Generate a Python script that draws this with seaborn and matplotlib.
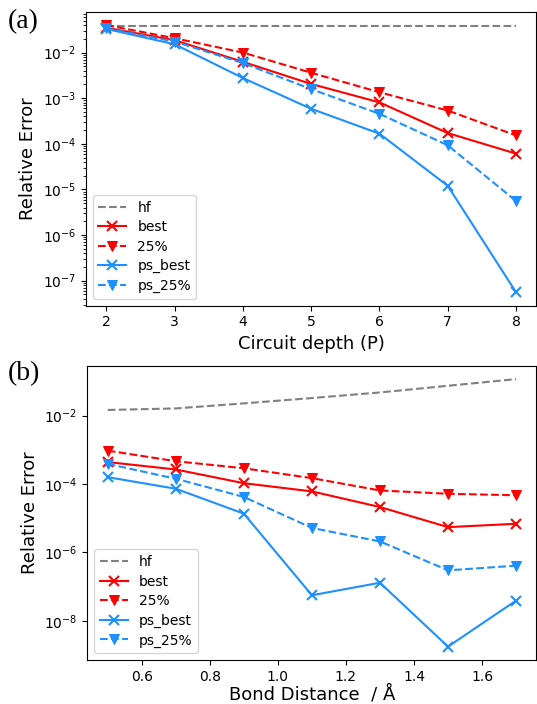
import matplotlib
matplotlib.use("Agg")
import matplotlib.pyplot as plt
from matplotlib import ticker
import seaborn as sns

# Panel (a): relative error vs circuit depth
depth = [2, 3, 4, 5, 6, 7, 8]
hf_a = [0.0382, 0.0382, 0.0382, 0.0382, 0.0382, 0.0382, 0.0382]
best_a = [0.035, 0.0186, 0.00626, 0.00205, 0.00081, 0.000172, 6.1e-5]
q25_a = [0.040, 0.0206, 0.0100, 0.00361, 0.00135, 0.000537, 0.000153]
ps_best_a = [0.033, 0.0152, 0.00277, 0.000585, 0.000167, 1.2e-5, 5.6e-8]
ps_q25_a = [0.034, 0.0174, 0.0059, 0.00158, 0.000455, 9.3e-5, 5.6e-6]

# Panel (b): relative error vs bond distance
bond = [0.5, 0.7, 0.9, 1.1, 1.3, 1.5, 1.7]
hf_b = [0.0147, 0.0163, 0.0229, 0.0328, 0.0478, 0.075, 0.1175]
best_b = [4.4e-4, 2.67e-4, 1.06e-4, 6.1e-5, 2.13e-5, 5.5e-6, 6.9e-6]
q25_b = [9.5e-4, 4.66e-4, 2.9e-4, 1.49e-4, 6.5e-5, 5.2e-5, 4.7e-5]
ps_best_b = [1.59e-4, 7.3e-5, 1.36e-5, 5.6e-8, 1.3e-7, 1.76e-9, 3.9e-8]
ps_q25_b = [3.9e-4, 1.43e-4, 4.2e-5, 5.2e-6, 2.1e-6, 3.0e-7, 4.1e-7]

labels = ["hf", "best", "25%", "ps_best", "ps_25%"]
colors = ["gray", "red", "red", "dodgerblue", "dodgerblue"]
markers = [None, "x", "v", "x", "v"]
styles = ["--", "-", "--", "-", "--"]

plt.rcParams["font.family"] = ["DejaVu Sans"]

fig = plt.figure(figsize=(5.37, 7.04), dpi=100)
ax1 = fig.add_axes([0.160, 0.566, 0.839, 0.4173])
ax2 = fig.add_axes([0.1626, 0.0625, 0.8364, 0.418])


def draw(ax, x, series):
    for y, lab, c, m, ls in zip(series, labels, colors, markers, styles):
        kw = dict(x=x, y=y, ax=ax, color=c, linestyle=ls, label=lab, linewidth=1.5)
        if m is not None:
            kw.update(marker=m, markersize=7, markeredgecolor=c, markerfacecolor=c,
                      markeredgewidth=1.5 if m == "x" else 0.75)
        sns.lineplot(**kw)
    ax.set_yscale("log")
    ax.set_ylabel("Relative Error", fontsize=13)
    ax.tick_params(labelsize=10)
    ax.legend(loc="lower left", fontsize=10, labelspacing=0.4)


draw(ax1, depth, [hf_a, best_a, q25_a, ps_best_a, ps_q25_a])
ax1.set_xlabel("Circuit depth (P)", fontsize=13)

draw(ax2, bond, [hf_b, best_b, q25_b, ps_best_b, ps_q25_b])
ax2.set_xlabel("Bond Distance  / Å", fontsize=13, labelpad=1)
# labels every second decade, no minor ticks
ax2.yaxis.set_major_locator(ticker.LogLocator(base=100))
ax2.yaxis.set_minor_locator(ticker.NullLocator())

serif = ["Liberation Serif", "DejaVu Serif"]
fig.text(0.014, 0.969, "(a)", family=serif, fontsize=20, va="center", ha="left")
fig.text(0.014, 0.470, "(b)", family=serif, fontsize=20, va="center", ha="left")

fig.savefig("out.png", dpi=100)
